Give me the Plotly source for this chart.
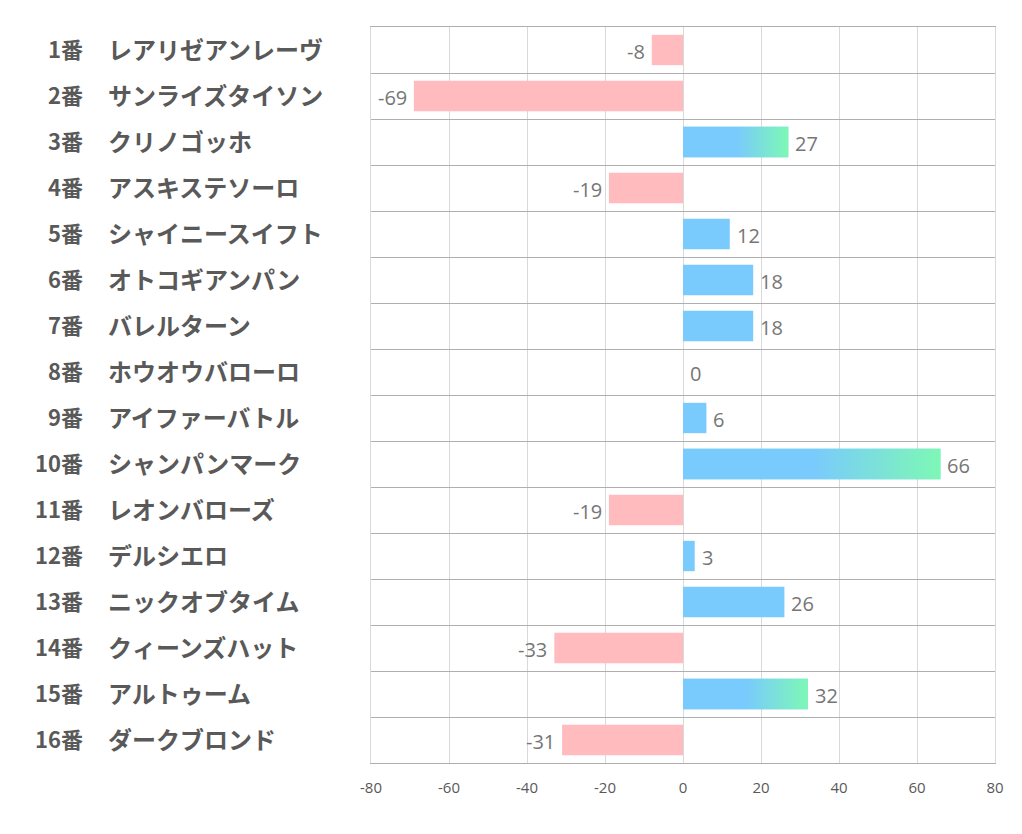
import plotly.graph_objects as go

numbers = [f"{i}番" for i in range(1, 17)]
names = ["レアリゼアンレーヴ", "サンライズタイソン", "クリノゴッホ", "アスキステソーロ",
         "シャイニースイフト", "オトコギアンパン", "バレルターン", "ホウオウバローロ",
         "アイファーバトル", "シャンパンマーク", "レオンバローズ", "デルシエロ",
         "ニックオブタイム", "クィーンズハット", "アルトゥーム", "ダークブロンド"]
values = [-8, -69, 27, -19, 12, 18, 18, 0, 6, 66, -19, 3, 26, -33, 32, -31]
gradient_rows = [3, 10, 15]  # horse numbers drawn with blue→green gradient
x_ticks = [-80, -60, -40, -20, 0, 20, 40, 60, 80]

PINK = "#FFBBBE"
BLUE = "#79CAFD"
GREEN = "#7DF8B5"
BAR_W = 0.66

idx = list(range(len(values)))
colors = [BLUE if v >= 0 else PINK for v in values]

fig = go.Figure()
fig.add_trace(go.Bar(x=values, y=idx, orientation="h", width=BAR_W,
                     marker=dict(color=colors, line=dict(width=0)),
                     hoverinfo="skip", showlegend=False))

h = BAR_W / 2
for num in gradient_rows:
    i = num - 1
    v = values[i]
    fig.add_trace(go.Scatter(
        x=[0, v, v, 0, 0], y=[i - h, i - h, i + h, i + h, i - h],
        mode="lines", line=dict(width=0), fill="toself",
        fillgradient=dict(type="horizontal",
                          colorscale=[[0, BLUE], [0.5, BLUE], [1, GREEN]]),
        hoverinfo="skip", showlegend=False))

# value labels
for i in idx:
    v = values[i]
    fig.add_annotation(x=v, y=i, text=str(v), showarrow=False,
                       xanchor="left" if v >= 0 else "right", yanchor="middle",
                       xshift=5 if v >= 0 else -5, yshift=-1,
                       font=dict(family="Open Sans", size=20, color="#767676"))

L, R = 371, 995
pw = R - L
for i in idx:
    fig.add_annotation(xref="paper", yref="y", x=(85 - L) / pw, y=i, text=numbers[i],
                       xanchor="right", yanchor="middle", showarrow=False, yshift=2,
                       font=dict(family="Noto Sans CJK JP", size=22, color="#595959", weight="bold"))
    fig.add_annotation(xref="paper", yref="y", x=(106 - L) / pw, y=i, text=names[i],
                       xanchor="left", yanchor="middle", showarrow=False, yshift=2,
                       font=dict(family="Noto Sans CJK JP", size=24, color="#595959", weight="bold"))

fig.update_layout(
    width=1022, height=834,
    margin=dict(l=371, r=1022 - 995, t=27, b=71),
    paper_bgcolor="white", plot_bgcolor="white",
    xaxis=dict(range=[-80, 80], tickvals=x_ticks, ticktext=[str(t) for t in x_ticks],
               showgrid=True, gridcolor="#D9D9D9", gridwidth=1, zeroline=False,
               showline=True, linecolor="#AFAFAF", linewidth=1, mirror=True,
               ticks="outside", ticklen=11, tickcolor="rgba(0,0,0,0)",
               tickfont=dict(family="Open Sans", size=15, color="#595959")),
    yaxis=dict(range=[15.5, -0.5], tick0=-0.5, dtick=1, showticklabels=False,
               showgrid=True, gridcolor="#AFAFAF", gridwidth=1, zeroline=False,
               showline=True, linecolor="#D9D9D9", linewidth=1, mirror=True, ticks=""),
    font=dict(family="Open Sans"),
)

fig.write_html("out.html", config={"displayModeBar": False},
               post_script="document.body.style.margin='0';")
